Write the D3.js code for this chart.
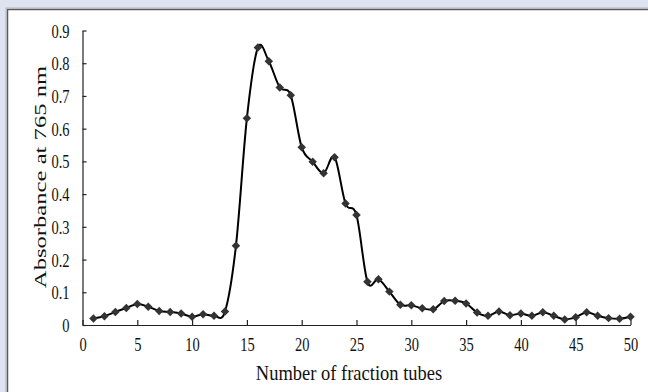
<!DOCTYPE html>
<html>
<head>
<meta charset="utf-8">
<script src="https://cdn.jsdelivr.net/npm/d3@7"></script>
<style>
  html, body { margin: 0; padding: 0; background: #dfe3f0; }
  svg { display: block; }
  .tick text { font-family: "Liberation Serif", "Times New Roman", serif; fill: #111; }
  .axis-title { font-family: "Liberation Serif", "Times New Roman", serif; fill: #111; }
</style>
</head>
<body>
<div id="chart"></div>
<script>
// fraction tube numbers and absorbance readings
const tubes = d3.range(1, 51);
const absorbance = [
  0.020, 0.027, 0.040, 0.052, 0.064, 0.056, 0.043, 0.040, 0.035, 0.025,
  0.033, 0.028, 0.041, 0.242, 0.632, 0.848, 0.806, 0.726, 0.702, 0.543,
  0.499, 0.464, 0.513, 0.371, 0.336, 0.132, 0.140, 0.102, 0.062, 0.060,
  0.051, 0.048, 0.073, 0.074, 0.066, 0.038, 0.028, 0.041, 0.030, 0.035,
  0.028, 0.039, 0.028, 0.017, 0.024, 0.039, 0.028, 0.021, 0.019, 0.025
];
const xTicks = [0, 5, 10, 15, 20, 25, 30, 35, 40, 45, 50];
const yTicks = [0, 0.1, 0.2, 0.3, 0.4, 0.5, 0.6, 0.7, 0.8, 0.9];
const xTitle = 'Number of fraction tubes';
const yTitle = 'Absorbance at 765 nm';

const width = 648, height = 392;
const margin = { top: 30.5, right: 17.5, bottom: 67, left: 82.5 };
const stretch = 1.35; // the source picture is taller than it is wide, text looks stretched

const svg = d3.select('#chart').append('svg')
  .attr('width', width)
  .attr('height', height);

// white panel with grey frame
svg.append('rect')
  .attr('x', 6).attr('y', 8)
  .attr('width', width).attr('height', height)
  .attr('fill', '#fff')
  .attr('stroke', '#b4b6bd').attr('stroke-width', 1);
svg.append('path')
  .attr('d', `M7.5,${height}V9.5H${width}`)
  .attr('fill', 'none')
  .attr('stroke', '#5a5a5a').attr('stroke-width', 1.5);

const x = d3.scaleLinear().domain([0, 50]).range([margin.left, width - margin.right]);
const y = d3.scaleLinear().domain([0, 0.9]).range([height - margin.bottom, margin.top]);

// x axis, ticks pointing inward
const xAxis = svg.append('g')
  .attr('transform', `translate(0,${y(0)})`)
  .call(d3.axisBottom(x).tickValues(xTicks).tickSizeInner(-5).tickSizeOuter(0).tickPadding(14).tickFormat(d3.format('d')));

// y axis, ticks pointing inward
const yAxis = svg.append('g')
  .attr('transform', `translate(${x(0)},0)`)
  .call(d3.axisLeft(y).tickValues(yTicks).tickSizeInner(-4).tickSizeOuter(0).tickPadding(13)
    .tickFormat(d => d === 0 ? '0' : d3.format('.1f')(d)));

[xAxis, yAxis].forEach(g => {
  g.select('.domain').attr('stroke', '#222').attr('stroke-width', 1.2);
  g.selectAll('.tick line').attr('stroke', '#222').attr('stroke-width', 1.2);
  g.selectAll('.tick text').attr('font-size', 14.5).attr('dy', 0);
});
xAxis.selectAll('.tick text')
  .attr('y', 0)
  .attr('transform', `translate(0,26) scale(1,${stretch})`);
yAxis.selectAll('.tick text')
  .attr('transform', `translate(0,6.5) scale(1,${stretch})`);

// smoothed line like the spreadsheet "smoothed line" option
const line = d3.line()
  .x((d, i) => x(tubes[i]))
  .y(d => y(d))
  .curve(d3.curveCatmullRom.alpha(0));

svg.append('path')
  .datum(absorbance)
  .attr('fill', 'none')
  .attr('stroke', '#000')
  .attr('stroke-width', 2)
  .attr('d', line);

// diamond markers
svg.append('g')
  .selectAll('path')
  .data(absorbance)
  .join('path')
  .attr('transform', (d, i) => `translate(${x(tubes[i])},${y(d)}) rotate(45)`)
  .attr('d', d3.symbol(d3.symbolSquare, 36))
  .attr('fill', '#333');

// axis titles
svg.append('text')
  .attr('class', 'axis-title')
  .attr('transform', 'translate(349,380) scale(1,1.12)')
  .attr('text-anchor', 'middle')
  .attr('font-size', 18.5)
  .text(xTitle);

svg.append('text')
  .attr('class', 'axis-title')
  .attr('transform', 'translate(46,177) rotate(-90) scale(1.45,1)')
  .attr('text-anchor', 'middle')
  .attr('font-size', 17)
  .text(yTitle);
</script>
</body>
</html>
